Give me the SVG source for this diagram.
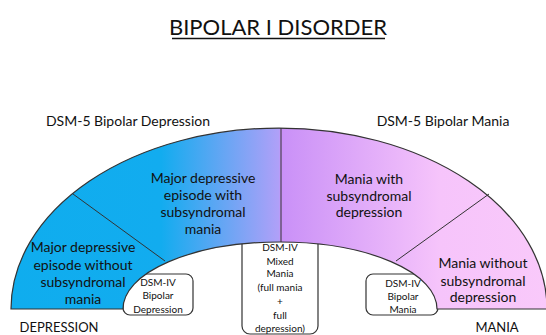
<svg xmlns="http://www.w3.org/2000/svg" width="546" height="335" viewBox="0 0 546 335">
<defs>
<linearGradient id="g" gradientUnits="userSpaceOnUse" x1="11" y1="0" x2="547" y2="0">
<stop offset="0" stop-color="#0fadee"/>
<stop offset="0.28" stop-color="#12acef"/>
<stop offset="0.5" stop-color="#b0a0f8"/>
<stop offset="0.503" stop-color="#c990f7"/>
<stop offset="0.8" stop-color="#f6c4fb"/>
<stop offset="1" stop-color="#f9c9fa"/>
</linearGradient>
<style>
text{font-family:Lato,"Liberation Sans",sans-serif;fill:#111;text-anchor:middle}
.m{font-size:14px}
.s{font-size:10px}
.box{fill:#fff;stroke:#333;stroke-width:1.2}
.ln{stroke:#333;stroke-width:1;fill:none}
</style>
</defs>
<rect width="546" height="335" fill="#fff"/>
<g id="title">
<text x="278" y="35" style="font-size:22px">BIPOLAR I DISORDER</text>
<line x1="172" y1="38.5" x2="385" y2="38.5" stroke="#111" stroke-width="1.6"/>
</g>
<g id="box-bipolar-depression"><rect class="box" x="123" y="274" width="70" height="41" rx="7"/></g>
<g id="box-mixed-mania"><rect class="box" x="242" y="236" width="76" height="98" rx="8"/></g>
<g id="box-bipolar-mania"><rect class="box" x="366" y="274" width="72" height="41" rx="7"/></g>
<g id="arch">
<path d="M11 309 A268 181 0 0 1 547 309 L437 309 A157 67 0 0 0 123 309 Z" fill="url(#g)" stroke="#333" stroke-width="1.2"/>
</g>
<g id="connectors">
<line class="ln" x1="73" y1="194" x2="165" y2="261"/>
<line class="ln" x1="281" y1="128" x2="281" y2="242"/>
<line class="ln" x1="489" y1="194" x2="396" y2="261"/>
</g>
<g id="mdd-without">
<text class="m" x="83" y="252">Major depressive</text>
<text class="m" x="83" y="270">episode without</text>
<text class="m" x="83" y="287">subsyndromal</text>
<text class="m" x="83" y="304">mania</text>
</g>
<g id="mdd-with">
<text class="m" x="203" y="183">Major depressive</text>
<text class="m" x="203" y="200">episode with</text>
<text class="m" x="203" y="217">subsyndromal</text>
<text class="m" x="203" y="234">mania</text>
</g>
<g id="mania-with">
<text class="m" x="369" y="184">Mania with</text>
<text class="m" x="369" y="201">subsyndromal</text>
<text class="m" x="369" y="217">depression</text>
</g>
<g id="mania-without">
<text class="m" x="483" y="268">Mania without</text>
<text class="m" x="483" y="286">subsyndromal</text>
<text class="m" x="483" y="302">depression</text>
</g>
<g id="bd-text">
<text class="s" x="158" y="286">DSM-IV</text>
<text class="s" x="158" y="299">Bipolar</text>
<text class="s" x="158" y="313">Depression</text>
</g>
<g id="mm-text">
<text class="s" x="280" y="251">DSM-IV</text>
<text class="s" x="280" y="265">Mixed</text>
<text class="s" x="280" y="277">Mania</text>
<text class="s" x="280" y="291">(full mania</text>
<text class="s" x="280" y="305">+</text>
<text class="s" x="280" y="319">full</text>
<text class="s" x="280" y="332">depression)</text>
</g>
<g id="bm-text">
<text class="s" x="403" y="287">DSM-IV</text>
<text class="s" x="403" y="300">Bipolar</text>
<text class="s" x="403" y="313">Mania</text>
</g>
<g id="labels">
<text class="m" x="128" y="126">DSM-5 Bipolar Depression</text>
<text class="m" x="443" y="126">DSM-5 Bipolar Mania</text>
<text x="59" y="332" style="font-size:13px">DEPRESSION</text>
<text x="497" y="332" style="font-size:13px">MANIA</text>
</g>
</svg>
